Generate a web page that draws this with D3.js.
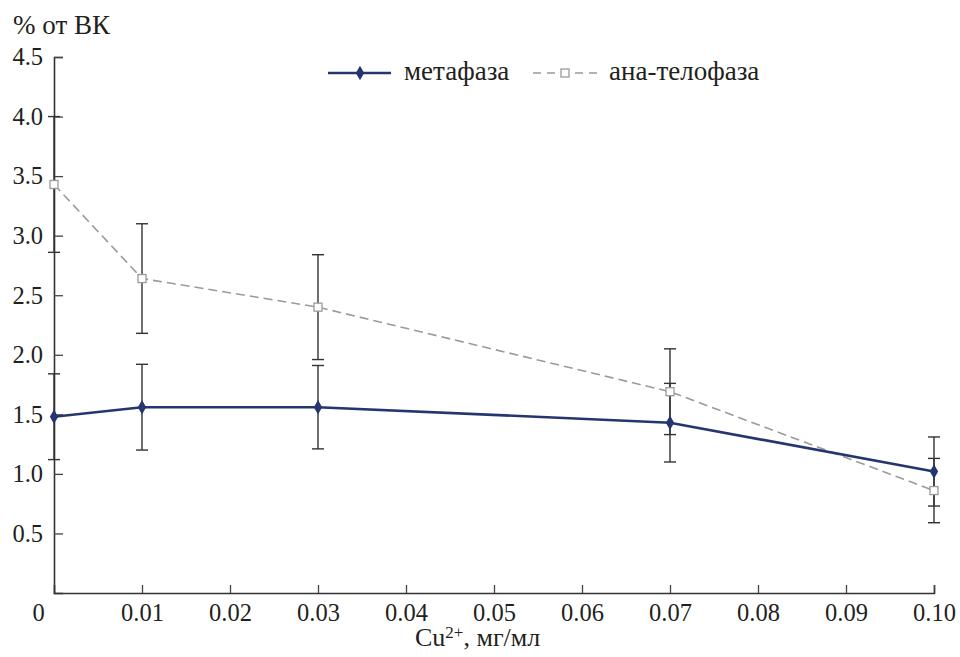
<!DOCTYPE html>
<html>
<head>
<meta charset="utf-8">
<script src="https://cdn.jsdelivr.net/npm/d3@7"></script>
<style>
  body { margin: 0; background: #fff; }
</style>
</head>
<body>
<div id="chart"></div>
<script>
// data
const doses = [0, 0.01, 0.03, 0.07, 0.10];
const metaphase = [1.48, 1.56, 1.56, 1.43, 1.02];
const metaphaseErr = [0.36, 0.36, 0.35, 0.33, 0.29];
const anaTelophase = [3.43, 2.64, 2.40, 1.69, 0.86];
const anaTelophaseErr = [0.57, 0.46, 0.44, 0.36, 0.27];
const xTicks = [0, 0.01, 0.02, 0.03, 0.04, 0.05, 0.06, 0.07, 0.08, 0.09, 0.10];
const yTicks = [0.5, 1.0, 1.5, 2.0, 2.5, 3.0, 3.5, 4.0, 4.5];

const serif = "Liberation Serif";
const textColor = "#231f20";

const margin = { top: 57, right: 26, bottom: 64, left: 54 };
const width = 960 - margin.left - margin.right;
const height = 657 - margin.top - margin.bottom;

const svg = d3.select("#chart")
    .append("svg")
    .attr("width", 960)
    .attr("height", 657)
    .attr("font-family", serif)
    .append("g")
    .attr("transform", `translate(${margin.left},${margin.top})`);

const x = d3.scaleLinear().domain([0, 0.10]).range([0, width]);
const y = d3.scaleLinear().domain([0, 4.5]).range([height, 0]);

// axes
const xAxis = svg.append("g")
    .attr("transform", `translate(0,${height})`)
    .call(d3.axisBottom(x).tickValues(xTicks).tickSize(-8).tickPadding(11)
        .tickFormat(d => d === 0 ? "0" : d3.format(".2f")(d)));
xAxis.attr("font-family", serif).attr("font-size", 24.5);
xAxis.select(".domain").attr("stroke", "#333").attr("stroke-width", 1.6);
xAxis.selectAll(".tick line").attr("stroke", "#444").attr("stroke-width", 1.3)
    .filter(d => d === 0).remove();
xAxis.selectAll(".tick text")
    .attr("font-family", serif)
    .attr("fill", textColor)
    .attr("dx", d => d === 0 ? -16 : 0);

const yAxis = svg.append("g")
    .call(d3.axisLeft(y).tickValues(yTicks).tickSize(-9).tickPadding(11)
        .tickFormat(d3.format(".1f")));
yAxis.attr("font-family", serif).attr("font-size", 24.5);
yAxis.select(".domain").attr("stroke", "#333").attr("stroke-width", 1.6);
yAxis.selectAll(".tick line").attr("stroke", "#444").attr("stroke-width", 1.3);
yAxis.selectAll(".tick text").attr("font-family", serif).attr("fill", textColor);

// axis titles
svg.append("text")
    .attr("x", -41)
    .attr("y", -23)
    .attr("font-family", serif)
    .attr("font-size", 27)
    .attr("fill", textColor)
    .text("% от ВК");

const xt = svg.append("text")
    .attr("x", 361)
    .attr("y", height + 53)
    .attr("font-family", serif)
    .attr("font-size", 26)
    .attr("fill", textColor);
xt.append("tspan").text("Cu");
xt.append("tspan").attr("dy", -8).attr("font-size", 17).text("2+");
xt.append("tspan").attr("dy", 8).text(", мг/мл");

// error bars
function errorBars(vals, errs) {
    const g = svg.append("g").attr("stroke", "#333").attr("stroke-width", 1.4);
    doses.forEach((d, i) => {
        const cx = x(d);
        const lo = y(vals[i] - errs[i]);
        const hi = y(vals[i] + errs[i]);
        g.append("line").attr("x1", cx).attr("x2", cx).attr("y1", lo).attr("y2", hi);
        g.append("line").attr("x1", cx - 6).attr("x2", cx + 6).attr("y1", lo).attr("y2", lo);
        g.append("line").attr("x1", cx - 6).attr("x2", cx + 6).attr("y1", hi).attr("y2", hi);
    });
}
errorBars(metaphase, metaphaseErr);
errorBars(anaTelophase, anaTelophaseErr);

const line = d3.line().x((d, i) => x(doses[i])).y(d => y(d));

// ana-telophase, dashed grey
svg.append("path")
    .datum(anaTelophase)
    .attr("fill", "none")
    .attr("stroke", "#9a9a9a")
    .attr("stroke-width", 1.6)
    .attr("stroke-dasharray", "9,5")
    .attr("d", line);

// metaphase, navy
svg.append("path")
    .datum(metaphase)
    .attr("fill", "none")
    .attr("stroke", "#243570")
    .attr("stroke-width", 2.6)
    .attr("d", line);

const diamond = d3.symbol().type(d3.symbolDiamond).size(60);

svg.selectAll(".meta-pt")
    .data(metaphase)
    .enter().append("path")
    .attr("class", "meta-pt")
    .attr("transform", (d, i) => `translate(${x(doses[i])},${y(d)})`)
    .attr("d", diamond)
    .attr("fill", "#243570");

svg.selectAll(".ana-pt")
    .data(anaTelophase)
    .enter().append("rect")
    .attr("class", "ana-pt")
    .attr("x", (d, i) => x(doses[i]) - 4)
    .attr("y", d => y(d) - 4)
    .attr("width", 8)
    .attr("height", 8)
    .attr("fill", "#fff")
    .attr("stroke", "#9a9a9a")
    .attr("stroke-width", 1.3);

// legend
const lg = svg.append("g").attr("transform", `translate(${328 - margin.left},${73 - margin.top})`);
lg.append("line").attr("x1", 0).attr("x2", 63).attr("y1", 0).attr("y2", 0)
    .attr("stroke", "#243570").attr("stroke-width", 2.6);
lg.append("path").attr("transform", "translate(32,0)").attr("d", diamond).attr("fill", "#243570");
lg.append("text").attr("x", 76).attr("y", 7).attr("font-family", serif).attr("font-size", 27)
    .attr("fill", textColor).text("метафаза");

lg.append("line").attr("x1", 205).attr("x2", 269).attr("y1", 0).attr("y2", 0)
    .attr("stroke", "#9a9a9a").attr("stroke-width", 1.6).attr("stroke-dasharray", "8,6");
lg.append("rect").attr("x", 233).attr("y", -4).attr("width", 8).attr("height", 8)
    .attr("fill", "#fff").attr("stroke", "#9a9a9a").attr("stroke-width", 1.3);
lg.append("text").attr("x", 281).attr("y", 7).attr("font-family", serif).attr("font-size", 27)
    .attr("fill", textColor).text("ана-телофаза");
</script>
</body>
</html>
